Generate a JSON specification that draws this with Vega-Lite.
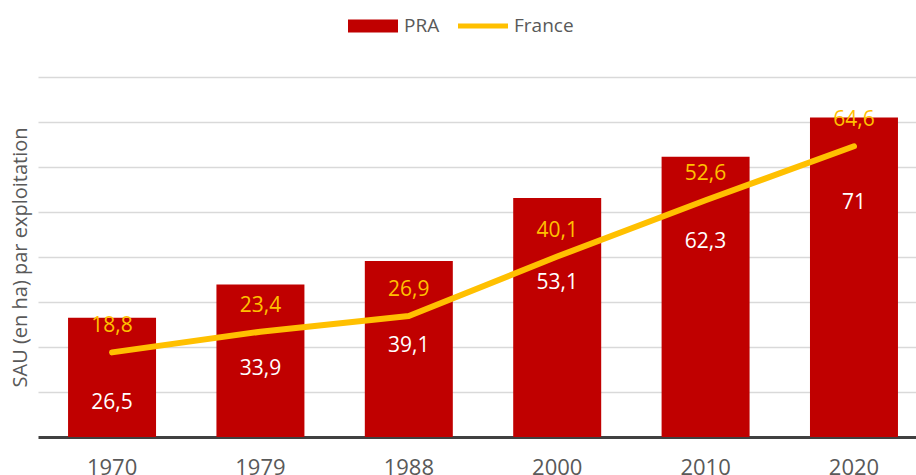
{
  "$schema": "https://vega.github.io/schema/vega-lite/v6.json",
  "width": 878,
  "height": 360,
  "autosize": {"type": "none"},
  "padding": {"left": 38, "top": 77, "right": 0, "bottom": 38},
  "background": "white",
  "config": {
    "view": {"stroke": null},
    "font": "Open Sans",
    "locale": {"number": {"decimal": ",", "thousands": " ", "grouping": [3], "currency": ["", " €"]}}
  },
  "data": {
    "values": [
      {"annee": "1970", "PRA": 26.5, "France": 18.8},
      {"annee": "1979", "PRA": 33.9, "France": 23.4},
      {"annee": "1988", "PRA": 39.1, "France": 26.9},
      {"annee": "2000", "PRA": 53.1, "France": 40.1},
      {"annee": "2010", "PRA": 62.3, "France": 52.6},
      {"annee": "2020", "PRA": 71, "France": 64.6}
    ]
  },
  "encoding": {
    "x": {
      "field": "annee",
      "type": "ordinal",
      "scale": {"paddingInner": 0.407, "paddingOuter": 0.162, "align": 0.625},
      "axis": {
        "title": null,
        "labelAngle": 0,
        "ticks": false,
        "domainColor": "#404040",
        "domainWidth": 3,
        "labelFontSize": 22,
        "labelColor": "#595959",
        "labelPadding": 20
      }
    }
  },
  "layer": [
    {
      "mark": {"type": "bar"},
      "encoding": {
        "y": {
          "field": "PRA",
          "type": "quantitative",
          "scale": {"domain": [0, 80], "nice": false},
          "axis": {
            "values": [10, 20, 30, 40, 50, 60, 70, 80],
            "labels": false,
            "ticks": false,
            "domain": false,
            "grid": true,
            "gridColor": "#d9d9d9",
            "gridWidth": 1.5,
            "title": "SAU (en ha) par exploitation",
            "titleFontSize": 20,
            "titleFontWeight": "normal",
            "titleColor": "#595959",
            "titlePadding": 8
          }
        },
        "color": {
          "datum": "PRA",
          "type": "nominal",
          "scale": {"domain": ["PRA", "France"], "range": ["#C00000", "#FFC000"]},
          "legend": {
            "title": null,
            "orient": "none",
            "direction": "horizontal",
            "legendX": 310,
            "legendY": -76,
            "labelFontSize": 19,
            "labelColor": "#595959",
            "symbolSize": 2500,
            "labelOffset": 6,
            "columnPadding": 18,
            "padding": 0,
            "encode": {
              "symbols": {
                "update": {
                  "shape": {"signal": "datum.value === 'PRA' ? 'M-1,-0.26H1V0.26H-1Z' : 'M-1,-0.1H1V0.1H-1Z'"},
                  "fill": {"signal": "datum.value === 'PRA' ? '#C00000' : '#FFC000'"},
                  "stroke": {"signal": "datum.value === 'PRA' ? '#C00000' : '#FFC000'"},
                  "strokeWidth": {"value": 0},
                  "opacity": {"value": 1}
                }
              }
            }
          }
        }
      }
    },
    {
      "mark": {"type": "line", "strokeWidth": 6, "strokeCap": "round", "strokeJoin": "round"},
      "encoding": {
        "y": {"field": "France", "type": "quantitative"},
        "color": {"datum": "France", "type": "nominal"}
      }
    },
    {
      "mark": {"type": "text", "color": "white", "fontSize": 21, "dy": 85, "baseline": "middle"},
      "encoding": {
        "y": {"field": "PRA", "type": "quantitative"},
        "text": {"field": "PRA", "type": "quantitative", "format": ".1~f"}
      }
    },
    {
      "mark": {"type": "text", "color": "#FFC000", "fontSize": 21, "dy": -26, "baseline": "middle"},
      "encoding": {
        "y": {"field": "France", "type": "quantitative"},
        "text": {"field": "France", "type": "quantitative", "format": ".1~f"}
      }
    }
  ]
}
